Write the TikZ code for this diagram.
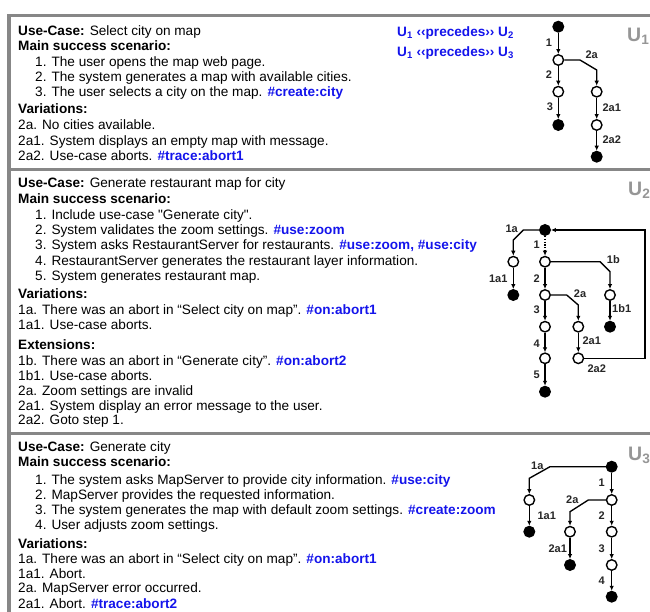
\documentclass[tikz,border=0pt]{standalone}
\usepackage{fontspec}
\setmainfont{Liberation Sans}[Ligatures=TeXOff]
\usetikzlibrary{arrows.meta}
\definecolor{tagblue}{RGB}{20,20,235}
\definecolor{framegray}{RGB}{135,135,135}
\definecolor{ucgray}{RGB}{150,150,150}
\newcommand{\tagtxt}[1]{{\bfseries\color{tagblue}#1}}
\tikzset{
  txt/.style={anchor=base west, inner sep=0pt, font=\fontsize{13.6}{16}\selectfont},
  rel/.style={anchor=base west, inner sep=0pt, text=tagblue, font=\bfseries\fontsize{13.6}{16}\selectfont},
  ucname/.style={anchor=base west, inner sep=0pt, text=ucgray, font=\bfseries\fontsize{19.5}{20}\selectfont},
  frameline/.style={draw=framegray, line width=3.2pt},
  state/.style={circle, draw=black, line width=1.4pt, minimum size=10.5pt, inner sep=0pt},
  openst/.style={state, fill=white},
  endst/.style={state, fill=black},
  flow/.style={-{Latex[length=5pt,width=4.5pt]}, line width=1.35pt, black},
  lbl/.style={inner sep=0pt, font=\bfseries\fontsize{11}{12}\selectfont, text=black!85}
}
\begin{document}
\begin{tikzpicture}[x=1pt,y=-1pt]
\useasboundingbox (0,0) rectangle (650,612);

% frame and separators
\draw[frameline] (650,15.8) -- (9,15.8) -- (9,612);
\draw[frameline] (9,169.5) -- (650,169.5);
\draw[frameline] (9,433.5) -- (650,433.5);

% ---------- U1: Select city on map ----------
\node[txt] (a1) at (18,36)    {\textbf{Use-Case:} Select city on map};
\node[txt] (a2) at (18,51)    {\textbf{Main success scenario:}};
\node[txt] (a3) at (35,66.3)  {1. The user opens the map web page.};
\node[txt] (a4) at (35,81.6)  {2. The system generates a map with available cities.};
\node[txt] (a5) at (35,96.9)  {3. The user selects a city on the map. \tagtxt{\#create:city}};
\node[txt] (a6) at (18,114)   {\textbf{Variations:}};
\node[txt] (a7) at (18,130)   {2a. No cities available.};
\node[txt] (a8) at (18,145.5) {2a1. System displays an empty map with message.};
\node[txt] (a9) at (18,161)   {2a2. Use-case aborts. \tagtxt{\#trace:abort1}};

\node[rel] (r12) at (397,36.5) {U\textsubscript{1} ‹‹precedes›› U\textsubscript{2}};
\node[rel] (r13) at (397,56.5) {U\textsubscript{1} ‹‹precedes›› U\textsubscript{3}};
\node[ucname] (u1) at (627,41.5) {U\textsubscript{1}};

\node[endst]  (p0) at (558.3,26.7) {};
\node[openst] (p1) at (558.3,60) {};
\node[openst] (p2) at (558.3,91.7) {};
\node[endst]  (p3) at (558.3,125) {};
\node[openst] (q1) at (596.7,91.7) {};
\node[openst] (q2) at (596.7,125) {};
\node[endst]  (q3) at (596.7,156.7) {};
\draw[flow] (p0) -- (p1);
\draw[flow] (p1) -- (p2);
\draw[flow] (p2) -- (p3);
\draw[flow] (p1) -- (580,60) -- (596.7,70) -- (q1);
\draw[flow] (q1) -- (q2);
\draw[flow] (q2) -- (q3);
\node[lbl] (lp1) at (549,42.3) {1};
\node[lbl] (lp2) at (549,75) {2};
\node[lbl] (lp3) at (550,107) {3};
\node[lbl] (lq0) at (591.7,54.3) {2a};
\node[lbl] (lq1) at (611.7,107.3) {2a1};
\node[lbl] (lq2) at (611.7,140) {2a2};

% ---------- U2: Generate restaurant map for city ----------
\node[txt] (b1)  at (18,188)    {\textbf{Use-Case:} Generate restaurant map for city};
\node[txt] (b2)  at (18,204)    {\textbf{Main success scenario:}};
\node[txt] (b3)  at (35,219.3)  {1. Include use-case "Generate city".};
\node[txt] (b4)  at (35,234.6)  {2. System validates the zoom settings. \tagtxt{\#use:zoom}};
\node[txt] (b5)  at (35,249.9)  {3. System asks RestaurantServer for restaurants. \tagtxt{\#use:zoom, \#use:city}};
\node[txt] (b6)  at (35,265.2)  {4. RestaurantServer generates the restaurant layer information.};
\node[txt] (b7)  at (35,280.5)  {5. System generates restaurant map.};
\node[txt] (b8)  at (18,298.5)  {\textbf{Variations:}};
\node[txt] (b9)  at (18,314)    {1a. There was an abort in “Select city on map”. \tagtxt{\#on:abort1}};
\node[txt] (b10) at (18,329)    {1a1. Use-case aborts.};
\node[txt] (b11) at (18,349.5)  {\textbf{Extensions:}};
\node[txt] (b12) at (18,365)    {1b. There was an abort in “Generate city”. \tagtxt{\#on:abort2}};
\node[txt] (b13) at (18,380)    {1b1. Use-case aborts.};
\node[txt] (b14) at (18,395)    {2a. Zoom settings are invalid};
\node[txt] (b15) at (18,410)    {2a1. System display an error message to the user.};
\node[txt] (b16) at (18,424.5)  {2a2. Goto step 1.};
\node[ucname] (u2) at (628,195.5) {U\textsubscript{2}};

\node[endst]  (s)  at (545,230) {};
\node[openst] (m1) at (545,261.7) {};
\node[openst] (m2) at (545,295) {};
\node[openst] (m3) at (545,326.7) {};
\node[openst] (m4) at (545,358.3) {};
\node[endst]  (m5) at (545,391.7) {};
\node[openst] (ka) at (513.3,261.7) {};
\node[endst]  (kb) at (513.3,295) {};
\node[openst] (na) at (610,295) {};
\node[endst]  (nb) at (610,326.7) {};
\node[openst] (ga) at (578.3,326.7) {};
\node[openst] (gb) at (578.3,358.3) {};
\draw[flow, dash pattern=on 1.3pt off 1.5pt] (s) -- (m1);
\draw[flow] (s) -- (523.3,230) -- (513.3,240) -- (ka);
\draw[flow] (ka) -- (kb);
\draw[flow] (m1) -- (600,261.7) -- (610,271.7) -- (na);
\draw[flow] (na) -- (nb);
\draw[flow] (m1) -- (m2);
\draw[flow] (m2) -- (566.7,295) -- (578.3,305) -- (ga);
\draw[flow] (ga) -- (gb);
\draw[flow] (gb) -- (645,358.3) -- (645,230) -- (s);
\draw[flow] (m2) -- (m3);
\draw[flow] (m3) -- (m4);
\draw[flow] (m4) -- (m5);
\node[lbl] (ls1)  at (536.7,245) {1};
\node[lbl] (lka)  at (511.7,228.3) {1a};
\node[lbl] (lkb)  at (498.3,278.3) {1a1};
\node[lbl] (lm2)  at (536.7,278.3) {2};
\node[lbl] (lna)  at (613.3,260) {1b};
\node[lbl] (lnb)  at (621.7,308.3) {1b1};
\node[lbl] (lm3)  at (536.7,310) {3};
\node[lbl] (lga)  at (580,293.3) {2a};
\node[lbl] (lgb)  at (591.7,340.7) {2a1};
\node[lbl] (lgc)  at (596.7,368.3) {2a2};
\node[lbl] (lm4)  at (536.7,343.3) {4};
\node[lbl] (lm5)  at (536.7,375) {5};

% ---------- U3: Generate city ----------
\node[txt] (c1)  at (18,451.5)  {\textbf{Use-Case:} Generate city};
\node[txt] (c2)  at (18,466.5)  {\textbf{Main success scenario:}};
\node[txt] (c3)  at (35,484)    {1. The system asks MapServer to provide city information. \tagtxt{\#use:city}};
\node[txt] (c4)  at (35,499.3)  {2. MapServer provides the requested information.};
\node[txt] (c5)  at (35,514.5)  {3. The system generates the map with default zoom settings. \tagtxt{\#create:zoom}};
\node[txt] (c6)  at (35,529.5)  {4. User adjusts zoom settings.};
\node[txt] (c7)  at (18,548)    {\textbf{Variations:}};
\node[txt] (c8)  at (18,563.3)  {1a. There was an abort in “Select city on map”. \tagtxt{\#on:abort1}};
\node[txt] (c9)  at (18,578)    {1a1. Abort.};
\node[txt] (c10) at (18,592.7)  {2a. MapServer error occurred.};
\node[txt] (c11) at (18,608)    {2a1. Abort. \tagtxt{\#trace:abort2}};
\node[ucname] (u3) at (628,460) {U\textsubscript{3}};

\node[endst]  (w0) at (611.7,466.7) {};
\node[openst] (w1) at (611.7,500) {};
\node[openst] (w2) at (611.7,531.7) {};
\node[openst] (w3) at (611.7,565) {};
\node[endst]  (w4) at (611.7,596.7) {};
\node[openst] (ea) at (529.3,500) {};
\node[endst]  (eb) at (529.3,531.7) {};
\node[openst] (fa) at (570,531.7) {};
\node[endst]  (fb) at (570,565) {};
\draw[flow] (w0) -- (w1);
\draw[flow] (w0) -- (550,466.7) -- (529.3,478.3) -- (ea);
\draw[flow] (ea) -- (eb);
\draw[flow] (w1) -- (w2);
\draw[flow] (w1) -- (588.3,500) -- (570,511.7) -- (fa);
\draw[flow] (fa) -- (fb);
\draw[flow] (w2) -- (w3);
\draw[flow] (w3) -- (w4);
\node[lbl] (lw1) at (601.7,482.7) {1};
\node[lbl] (lea) at (537.3,466) {1a};
\node[lbl] (leb) at (546.7,516) {1a1};
\node[lbl] (lw2) at (601.7,516) {2};
\node[lbl] (lfa) at (572.3,500) {2a};
\node[lbl] (lfb) at (557.7,548.3) {2a1};
\node[lbl] (lw3) at (601.7,548.3) {3};
\node[lbl] (lw4) at (601.7,580.7) {4};
\end{tikzpicture}
\end{document}
